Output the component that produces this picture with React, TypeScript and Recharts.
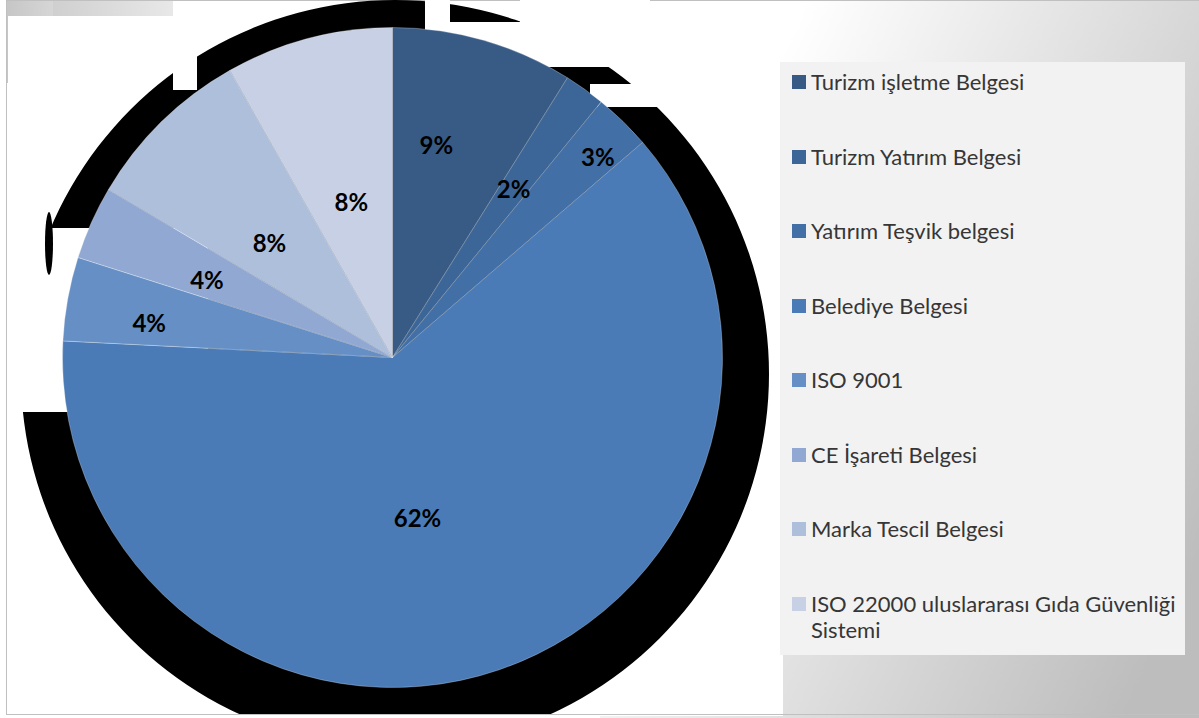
import React from 'react';
import { PieChart, Pie, Cell, Legend } from 'recharts';

// Belge türleri (legend order = slice order, clockwise from 12 o'clock)
const CATEGORIES = [
  'Turizm işletme Belgesi',
  'Turizm Yatırım Belgesi',
  'Yatırım Teşvik belgesi',
  'Belediye Belgesi',
  'ISO 9001',
  'CE İşareti Belgesi',
  'Marka Tescil Belgesi',
  'ISO 22000 uluslararası Gıda Güvenliği Sistemi',
];

// shares in percent, read from the slice boundaries
const SHARES = [8.9, 2.0, 2.8, 62.1, 4.1, 3.6, 8.3, 8.2];

const COLORS = [
  '#385B86',
  '#3C6697',
  '#426FA5',
  '#4A7BB7',
  '#6690C5',
  '#91A8D2',
  '#AEBFDC',
  '#C7D0E4',
];

// label placement ("best fit" in the original): fraction of radius, and a
// clockwise nudge in degrees away from the slice's mid angle
const LABEL_RADIUS = [0.66, 0.63, 0.87, 0.49, 0.745, 0.61, 0.51, 0.49];
const LABEL_NUDGE = [-4.4, 0, 1.4, 10, -2, -1.3, -2.5, 0];

const RADIAN = Math.PI / 180;
const W = 1199;
const H = 718;
// PieChart adds its 5px default margin to pixel cx/cy
const M = 5;

const data = CATEGORIES.map((name, i) => ({ name, value: SHARES[i] }));
const shadowData = [{ name: 'shadow', value: 1 }];

const renderLabel = (props: any) => {
  const { cx, cy, midAngle, outerRadius, percent, index } = props;
  const r = outerRadius * LABEL_RADIUS[index];
  const a = (midAngle - LABEL_NUDGE[index]) * RADIAN;
  const x = cx + r * Math.cos(-a);
  const y = cy + r * Math.sin(-a);
  return (
    <text
      x={x}
      y={y}
      textAnchor="middle"
      dominantBaseline="central"
      fill="#000000"
      fontFamily="Lato, 'Open Sans', sans-serif"
      fontWeight={700}
      fontSize={24}
    >
      {`${Math.round(percent * 100)}%`}
    </text>
  );
};

const renderLegend = (props: any) => {
  // keep the slice order instead of alphabetical
  const payload = [...(props.payload || [])].sort(
    (a: any, b: any) => CATEGORIES.indexOf(a.value) - CATEGORIES.indexOf(b.value)
  );
  return (
    <div
      style={{
        width: 405,
        height: 593,
        boxSizing: 'border-box',
        background: '#f2f2f2',
        paddingTop: 7,
        paddingLeft: 12,
        paddingRight: 3,
        fontFamily: "Lato, 'Open Sans', sans-serif",
        fontSize: 22,
        color: '#363636',
      }}
    >
      {payload.map((entry: any, i: number) => (
        <div key={`leg-${i}`} style={{ display: 'flex', alignItems: 'flex-start', height: 74.5 }}>
          <span
            style={{
              width: 14,
              height: 14,
              marginTop: 6,
              flex: '0 0 14px',
              background: entry.color,
            }}
          />
          <span style={{ marginLeft: 5, lineHeight: '26px', textAlign: 'left' }}>{entry.value}</span>
        </div>
      ))}
    </div>
  );
};

const abs = (left: number, top: number, width: number, height: number, background: string): React.CSSProperties => ({
  position: 'absolute',
  left,
  top,
  width,
  height,
  background,
});

export default function App() {
  return (
    <div style={{ position: 'absolute', left: 0, top: 0, width: W, height: H, background: '#ffffff', overflow: 'hidden' }}>
      {/* frame background */}
      <div style={abs(600, 0, 599, 718, 'linear-gradient(115deg, #ffffff 22%, #bdbdbd 92%)')} />
      <div style={abs(7, 0, 166, 16, 'linear-gradient(to right, #c6c6c6, #e8e8e8)')} />
      <div style={abs(7, 0, 46, 83, 'linear-gradient(to right, #c6c6c6, #d6d6d6)')} />
      <div style={abs(8, 16, 775, 700, '#ffffff')} />
      <div
        style={{
          position: 'absolute',
          left: 6,
          top: 0,
          width: 1199,
          height: 715,
          border: '1px solid #c0c0c0',
          boxSizing: 'border-box',
        }}
      />

      {/* black shadow disc behind the pie */}
      <div style={{ position: 'absolute', left: 0, top: 0, width: W, height: 714, overflow: 'hidden' }}>
        <PieChart width={W} height={H}>
          <Pie
            data={shadowData}
            dataKey="value"
            cx={395 - M}
            cy={374 - M}
            outerRadius={374}
            fill="#000000"
            stroke="none"
            isAnimationActive={false}
          />
        </PieChart>
      </div>
      {/* gaps where the shadow is missing */}
      <div style={abs(8, 228, 200, 184, '#ffffff')} />
      <div style={{ ...abs(45, 212, 8, 63, '#000000'), borderRadius: '50%' }} />
      <div style={abs(173, 30, 24, 60, '#ffffff')} />
      <div style={abs(425, 0, 25, 40, '#ffffff')} />
      <div style={abs(450, 22, 70, 40, '#ffffff')} />
      <div style={abs(520, 0, 130, 67, '#ffffff')} />
      <div style={abs(590, 84, 70, 23, '#ffffff')} />

      {/* main pie */}
      <div style={{ position: 'absolute', left: 0, top: 0 }}>
        <PieChart width={W} height={H}>
          <Pie
            data={data}
            dataKey="value"
            nameKey="name"
            cx={392.5 - M}
            cy={357.5 - M}
            outerRadius={330}
            startAngle={90}
            endAngle={-270}
            stroke="rgba(255,255,255,0.35)"
            strokeWidth={0.8}
            labelLine={false}
            label={renderLabel}
            isAnimationActive={false}
          >
            {data.map((entry, index) => (
              <Cell key={`cell-${index}`} fill={COLORS[index % COLORS.length]} />
            ))}
          </Pie>
          <Legend
            layout="vertical"
            align="right"
            verticalAlign="top"
            content={renderLegend}
            wrapperStyle={{ position: 'absolute', left: 780, top: 62, width: 405, height: 593 }}
          />
        </PieChart>
      </div>
    </div>
  );
}
